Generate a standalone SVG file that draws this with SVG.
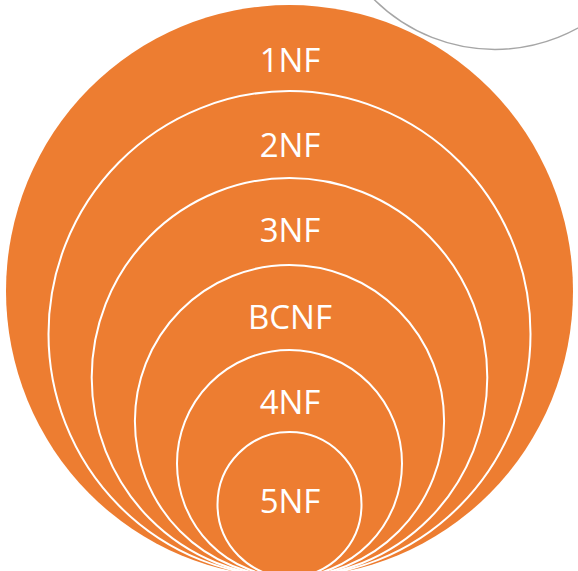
<svg xmlns="http://www.w3.org/2000/svg" width="578" height="571" viewBox="0 0 578 571">
<style>
.c{fill:#ED7D31;stroke:#FFFFFF;stroke-width:2}
.o{fill:#ED7D31;stroke:none}
.t{font-family:"Open Sans","Liberation Sans",sans-serif;font-size:33px;fill:#FFFFFF;text-anchor:middle}
</style>
<rect width="578" height="571" fill="#FFFFFF"/>
<circle cx="495" cy="-122" r="171.4" fill="none" stroke="#A6A6A6" stroke-width="1.5"/>
<g id="n1"><ellipse class="o" cx="289.5" cy="291" rx="283.5" ry="286"/><text class="t" x="290" y="72">1NF</text></g>
<g id="n2"><ellipse class="c" cx="289.5" cy="334" rx="241" ry="243"/><text class="t" x="290" y="157">2NF</text></g>
<g id="n3"><ellipse class="c" cx="289.5" cy="377.5" rx="197.8" ry="199.5"/><text class="t" x="290" y="242">3NF</text></g>
<g id="n4"><ellipse class="c" cx="289.5" cy="421" rx="154.6" ry="156"/><text class="t" x="290" y="329">BCNF</text></g>
<g id="n5"><ellipse class="c" cx="289.5" cy="463.5" rx="112.5" ry="113.5"/><text class="t" x="290" y="414">4NF</text></g>
<g id="n6"><ellipse class="c" cx="289.5" cy="504.5" rx="72" ry="72.5"/><text class="t" x="290" y="513">5NF</text></g>
<g id="connectors"></g>
</svg>
